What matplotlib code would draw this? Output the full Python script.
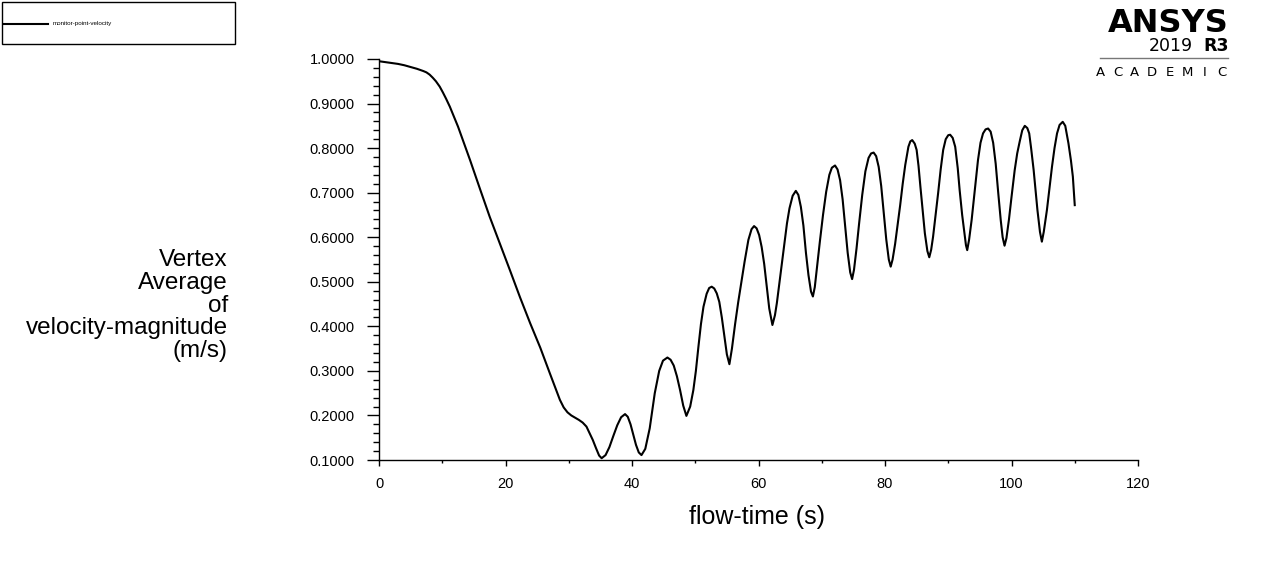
import matplotlib
matplotlib.use("Agg")
import matplotlib.pyplot as plt
from matplotlib.ticker import MultipleLocator, FormatStrFormatter
from matplotlib.lines import Line2D
from matplotlib.patches import Rectangle

plt.rcParams['font.family'] = ['Liberation Sans', 'DejaVu Sans']

flow_time = [0.0, 1.0, 2.0, 3.0, 4.0, 5.0, 6.0, 7.0, 7.5, 8.0, 8.5, 9.0, 9.6, 10.1, 10.6, 11.2,
             12.5, 14.4, 16.0, 17.5, 19.0, 20.7, 22.3, 23.9, 25.5, 27.0, 28.6, 29.2, 29.8,
             30.4, 31.0, 31.6, 32.2, 32.8, 33.3, 33.8, 34.3, 34.8, 35.2,
             35.82, 36.43, 37.05, 37.67, 38.28, 38.9,
             39.33, 39.77, 40.2, 40.63, 41.07, 41.5,
             42.1, 42.8, 43.6, 44.3, 44.9, 45.6,
             46.1, 46.6, 47.1, 47.6, 48.1, 48.6,
             49.2, 49.7, 50.1, 50.5, 50.9, 51.3, 51.8, 52.2, 52.6,
             53.0, 53.4, 53.8, 54.2, 54.6, 55.0, 55.4,
             55.8, 56.3, 56.8, 57.3, 57.8, 58.4, 58.9, 59.3,
             59.7, 60.1, 60.5, 60.9, 61.3, 61.7, 62.2,
             62.6, 62.9, 63.3, 63.7, 64.1, 64.5, 64.9, 65.4, 65.9,
             66.3, 66.7, 67.1, 67.5, 67.9, 68.3, 68.6,
             68.9, 69.2, 69.7, 70.2, 70.7, 71.2, 71.6, 72.1,
             72.5, 72.9, 73.3, 73.7, 74.1, 74.5, 74.8,
             75.1, 75.5, 75.9, 76.4, 76.9, 77.4, 77.8, 78.2,
             78.6, 79.0, 79.4, 79.8, 80.2, 80.6, 80.9,
             81.2, 81.6, 82.0, 82.4, 82.8, 83.2, 83.7, 84.0, 84.3,
             84.7, 85.0, 85.3, 85.6, 86.0, 86.3, 86.7, 87.0,
             87.3, 87.6, 88.0, 88.4, 88.8, 89.2, 89.6, 90.0, 90.3,
             90.7, 91.1, 91.5, 91.8, 92.2, 92.5, 92.8, 93.0,
             93.3, 93.7, 94.2, 94.7, 95.1, 95.5, 95.9, 96.3,
             96.7, 97.1, 97.5, 97.9, 98.3, 98.6, 98.9,
             99.2, 99.6, 100.0, 100.5, 100.9, 101.3, 101.7, 102.1,
             102.5, 102.8, 103.1, 103.5, 103.8, 104.1, 104.5, 104.8,
             105.1, 105.6, 106.0, 106.4, 106.8, 107.2, 107.6, 108.1,
             108.5, 109.0, 109.4, 109.7, 110.0]
velocity = [0.995, 0.993, 0.991, 0.989, 0.986, 0.982, 0.978, 0.973, 0.970, 0.965, 0.958, 0.950,
            0.938, 0.925, 0.911, 0.893, 0.848, 0.773, 0.707, 0.646, 0.590, 0.526, 0.465, 0.407,
            0.352, 0.295, 0.235, 0.218, 0.207, 0.200, 0.195, 0.190, 0.184, 0.175, 0.160, 0.145,
            0.127, 0.110, 0.104,
            0.111, 0.129, 0.154, 0.178, 0.196, 0.203,
            0.197, 0.180, 0.157, 0.134, 0.117, 0.111,
            0.125, 0.171, 0.250, 0.300, 0.323, 0.330,
            0.325, 0.312, 0.288, 0.257, 0.222, 0.199,
            0.220, 0.257, 0.300, 0.354, 0.405, 0.444, 0.473, 0.486, 0.489,
            0.485, 0.474, 0.455, 0.420, 0.378, 0.337, 0.315,
            0.350, 0.405, 0.455, 0.500, 0.545, 0.594, 0.618, 0.625,
            0.620, 0.605, 0.578, 0.540, 0.490, 0.440, 0.403,
            0.425, 0.452, 0.497, 0.542, 0.588, 0.631, 0.665, 0.693, 0.704,
            0.695, 0.668, 0.626, 0.565, 0.515, 0.478, 0.467,
            0.488, 0.526, 0.590, 0.650, 0.702, 0.740, 0.756, 0.761,
            0.752, 0.728, 0.685, 0.625, 0.565, 0.521, 0.506,
            0.527, 0.575, 0.630, 0.695, 0.748, 0.778, 0.788, 0.790,
            0.782, 0.758, 0.715, 0.655, 0.595, 0.550, 0.534,
            0.550, 0.585, 0.628, 0.672, 0.720, 0.762, 0.803, 0.815, 0.818,
            0.810, 0.796, 0.760, 0.713, 0.655, 0.609, 0.569, 0.555,
            0.572, 0.601, 0.650, 0.699, 0.752, 0.796, 0.820, 0.829, 0.830,
            0.823, 0.803, 0.755, 0.706, 0.650, 0.616, 0.582, 0.571,
            0.595, 0.639, 0.705, 0.773, 0.812, 0.833, 0.842, 0.844,
            0.837, 0.812, 0.765, 0.700, 0.638, 0.600, 0.581,
            0.598, 0.640, 0.690, 0.750, 0.788, 0.815, 0.840, 0.850,
            0.845, 0.833, 0.800, 0.751, 0.705, 0.661, 0.612, 0.590,
            0.612, 0.661, 0.710, 0.758, 0.800, 0.833, 0.852, 0.859,
            0.850, 0.811, 0.772, 0.736, 0.672]

series_name = "monitor-point-velocity"
x_label = "flow-time (s)"
y_label = "Vertex\nAverage\nof\nvelocity-magnitude\n(m/s)"

W, H = 1266, 575
fig = plt.figure(figsize=(W / 100, H / 100), dpi=100)
ax = fig.add_axes([379 / W, 1 - 460 / H, (1138 - 379) / W, (460 - 59) / H])

ax.plot(flow_time, velocity, color='black', linewidth=1.5, solid_joinstyle='round')
ax.set_xlim(0, 120)
ax.set_ylim(0.1, 1.0)

for s in ('top', 'right'):
    ax.spines[s].set_visible(False)
for s in ('left', 'bottom'):
    ax.spines[s].set_linewidth(1.0)
    ax.spines[s].set_color('black')

ax.xaxis.set_major_locator(MultipleLocator(20))
ax.xaxis.set_minor_locator(MultipleLocator(10))
ax.yaxis.set_major_locator(MultipleLocator(0.1))
ax.yaxis.set_minor_locator(MultipleLocator(0.02))
ax.yaxis.set_major_formatter(FormatStrFormatter('%.4f'))

ax.tick_params(axis='x', which='major', direction='out', length=4.5, width=1.0, pad=7.5, labelsize=10.5)
ax.tick_params(axis='x', which='minor', direction='out', length=2.2, width=1.0)
ax.tick_params(axis='y', which='major', direction='out', length=9, width=1.0, pad=8.5, labelsize=10.5)
ax.tick_params(axis='y', which='minor', direction='out', length=4.3, width=1.0)

fig.text(757 / W, 1 - 517 / H, x_label, ha='center', va='center', fontsize=18)
fig.text(228 / W, 1 - 305.5 / H, y_label, ha='right', va='center', fontsize=17.5,
         multialignment='right', linespacing=1.04)

# legend box
fig.add_artist(Rectangle((2 / W, 1 - 44 / H), 233 / W, 42 / H, transform=fig.transFigure,
                         facecolor='white', edgecolor='black', linewidth=1.0))
fig.add_artist(Line2D([4 / W, 48 / W], [1 - 24 / H, 1 - 24 / H], transform=fig.transFigure,
                      color='black', linewidth=1.5))
fig.text(53 / W, 1 - 24 / H, series_name, ha='left', va='center', fontsize=4.5)

# ANSYS logo
fig.text(1229 / W, 1 - 24 / H, "ANSYS", ha='right', va='center', fontsize=23,
         fontweight='heavy', family='DejaVu Sans')
fig.text(1229 / W, 1 - 46 / H, "R3", ha='right', va='center', fontsize=12.5,
         fontweight='bold', family='DejaVu Sans')
fig.text(1193 / W, 1 - 46 / H, "2019", ha='right', va='center', fontsize=12.5,
         family='DejaVu Sans')
fig.add_artist(Line2D([1100 / W, 1228 / W], [1 - 58 / H, 1 - 58 / H], transform=fig.transFigure,
                      color='#777777', linewidth=1.0))
for i, ch in enumerate("ACADEMIC"):
    fig.text((1100 + i * 17.4) / W, 1 - 72 / H, ch, ha='center', va='center', fontsize=9.5,
             family='DejaVu Sans')

fig.savefig("out.png", dpi=100, facecolor='white')
